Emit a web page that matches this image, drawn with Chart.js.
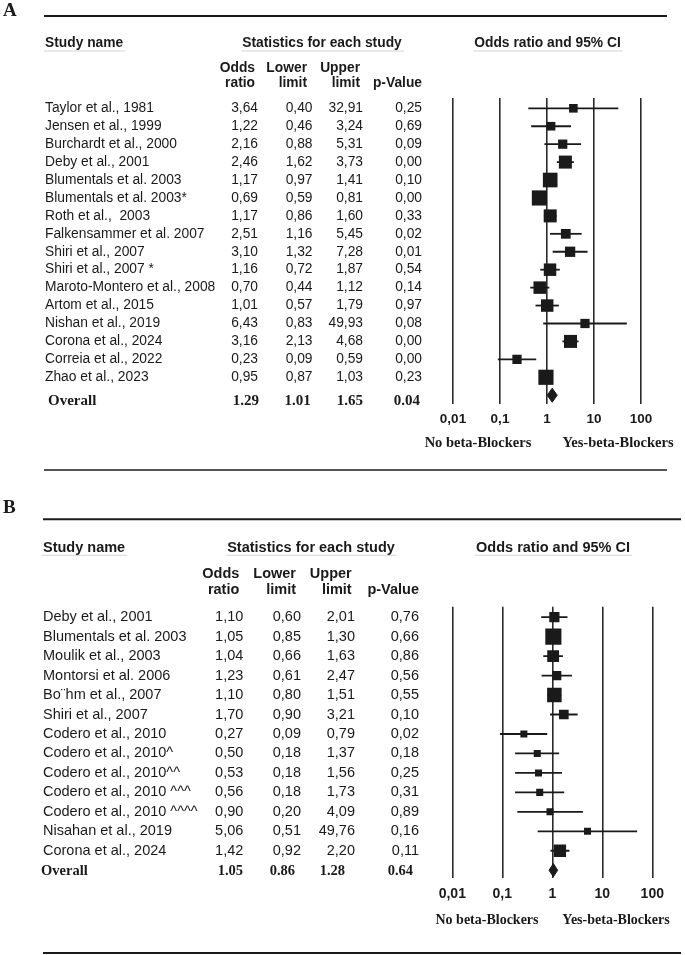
<!DOCTYPE html>
<html lang="en">
<head>
<meta charset="utf-8">
<script src="https://cdn.jsdelivr.net/npm/chart.js"></script>
<style>
  body { margin: 0; background: #fff; }
  canvas { display: block; }
</style>
</head>
<body>
<canvas id="panelA" width="685" height="477"></canvas>
<canvas id="panelB" width="685" height="478"></canvas>
<script>
// ---- panel A ----
const studiesA = ["Taylor et al., 1981", "Jensen et al., 1999", "Burchardt et al., 2000", "Deby et al., 2001",
  "Blumentals et al. 2003", "Blumentals et al. 2003*", "Roth et al.,  2003", "Falkensammer et al. 2007",
  "Shiri et al., 2007", "Shiri et al., 2007 *", "Maroto-Montero et al., 2008", "Artom et al., 2015",
  "Nishan et al., 2019", "Corona et al., 2024", "Correia et al., 2022", "Zhao et al., 2023"];
const oddsA  = [3.64, 1.22, 2.16, 2.46, 1.17, 0.69, 1.17, 2.51, 3.10, 1.16, 0.70, 1.01, 6.43, 3.16, 0.23, 0.95];
const lowerA = [0.40, 0.46, 0.88, 1.62, 0.97, 0.59, 0.86, 1.16, 1.32, 0.72, 0.44, 0.57, 0.83, 2.13, 0.09, 0.87];
const upperA = [32.91, 3.24, 5.31, 3.73, 1.41, 0.81, 1.60, 5.45, 7.28, 1.87, 1.12, 1.79, 49.93, 4.68, 0.59, 1.03];
const pValueA = [0.25, 0.69, 0.09, 0.00, 0.10, 0.00, 0.33, 0.02, 0.01, 0.54, 0.14, 0.97, 0.08, 0.00, 0.00, 0.23];
const weightA = [3.3, 3.3, 3.8, 7.5, 9.5, 10.2, 7.5, 4.2, 4.7, 6.9, 6.9, 6.9, 3.8, 7.5, 3.8, 10.2]; // relative weight (%)
const overallA = [1.29, 1.01, 1.65, 0.04]; // OR, lower, upper, p

// ---- panel B ----
const studiesB = ["Deby et al., 2001", "Blumentals et al. 2003", "Moulik et al., 2003", "Montorsi et al. 2006",
  "Bo\u00a8hm et al., 2007", "Shiri et al., 2007", "Codero et al., 2010", "Codero et al., 2010^",
  "Codero et al., 2010^^", "Codero et al., 2010 ^^^", "Codero et al., 2010 ^^^^", "Nisahan et al., 2019",
  "Corona et al., 2024"];
const oddsB  = [1.10, 1.05, 1.04, 1.23, 1.10, 1.70, 0.27, 0.50, 0.53, 0.56, 0.90, 5.06, 1.42];
const lowerB = [0.60, 0.85, 0.66, 0.61, 0.80, 0.90, 0.09, 0.18, 0.18, 0.18, 0.20, 0.51, 0.92];
const upperB = [2.01, 1.30, 1.63, 2.47, 1.51, 3.21, 0.79, 1.37, 1.56, 1.73, 4.09, 49.76, 2.20];
const pValueB = [0.76, 0.66, 0.86, 0.56, 0.55, 0.10, 0.02, 0.18, 0.25, 0.31, 0.89, 0.16, 0.11];
const weightB = [7.8, 19.5, 10.5, 6.2, 15.8, 7.0, 3.7, 3.7, 3.7, 3.7, 3.7, 3.7, 11.4];
const overallB = [1.05, 0.86, 1.28, 0.64];

const orTicks = [0.01, 0.1, 1, 10, 100];
const orTickLabels = ["0,01", "0,1", "1", "10", "100"];
const favourLabels = ["No beta-Blockers", "Yes-beta-Blockers"];
const colHeadTop = ["Odds", "Lower", "Upper", ""];
const colHeadBottom = ["ratio", "limit", "limit", "p-Value"];

const sans = "Arial, 'Liberation Sans', sans-serif";
const serif = "'Times New Roman', 'Liberation Serif', serif";
const ink = "#1a1a1a";

function comma(v) { return v.toFixed(2).replace(".", ","); }

function hline(ctx, x0, x1, y, w, color) {
  ctx.beginPath();
  ctx.strokeStyle = color;
  ctx.lineWidth = w;
  ctx.moveTo(x0, y);
  ctx.lineTo(x1, y);
  ctx.stroke();
}

function forestPanel(id, d, s) {
  const n = d.names.length;
  const datasets = [];

  // confidence intervals
  d.names.forEach((_, i) => {
    datasets.push({
      data: [{ x: d.lower[i], y: i }, { x: d.upper[i], y: i }],
      showLine: true, borderColor: ink, borderWidth: 1.8, pointRadius: 0
    });
  });
  // study boxes
  datasets.push({
    data: d.odds.map((v, i) => ({ x: v, y: i })),
    pointStyle: "rect",
    pointRadius: d.weight.map(w => Math.sqrt(w) * s.box / Math.SQRT2),
    pointBackgroundColor: ink, backgroundColor: ink, pointBorderWidth: 0
  });
  // overall diamond (two halves filled together)
  const [or, lo, hi] = d.overall;
  datasets.push({
    data: [{ x: lo, y: n }, { x: or, y: n - s.dia }, { x: hi, y: n }],
    showLine: true, borderColor: ink, borderWidth: 1, pointRadius: 0,
    fill: "+1", backgroundColor: ink
  });
  datasets.push({
    data: [{ x: lo, y: n }, { x: or, y: n + s.dia }, { x: hi, y: n }],
    showLine: true, borderColor: ink, borderWidth: 1, pointRadius: 0
  });

  const table = {
    id: "table",
    afterDraw(chart) {
      const ctx = chart.ctx;
      const yS = chart.scales.y;
      ctx.save();
      ctx.fillStyle = ink;
      ctx.textBaseline = "middle";

      ctx.font = `bold 19px ${serif}`;
      ctx.textAlign = "left";
      ctx.fillText(s.letter, 3, s.letterY);

      hline(ctx, s.ruleX[0], s.ruleX[1], s.topRule, 2, ink);
      hline(ctx, s.ruleX[0], s.ruleX[1], s.bottomRule, s.bottomW, ink);

      // section headers with light underline
      ctx.font = `bold ${s.fs}px ${sans}`;
      const heads = [["Study name", s.nameX, "left"], ["Statistics for each study", s.statsX, "center"],
                     ["Odds ratio and 95% CI", s.ciX, "center"]];
      heads.forEach(([t, x, a]) => {
        ctx.textAlign = a;
        ctx.fillText(t, x, s.headY);
        const w = ctx.measureText(t).width;
        const x0 = a === "left" ? x : x - w / 2;
        hline(ctx, x0 - 1, x0 + w + 2, s.ulY, 1, "#d4d4d4");
      });

      ctx.textAlign = "right";
      colHeadTop.forEach((t, k) => ctx.fillText(t, s.headRight[k], s.head1Y));
      colHeadBottom.forEach((t, k) => ctx.fillText(t, s.headRight[k], s.head2Y));

      // study rows
      ctx.font = `${s.fs}px ${sans}`;
      d.names.forEach((name, i) => {
        const y = yS.getPixelForValue(i);
        ctx.textAlign = "left";
        ctx.fillText(name, s.nameX, y);
        ctx.textAlign = "right";
        [d.odds[i], d.lower[i], d.upper[i], d.p[i]].forEach((v, k) => ctx.fillText(comma(v), s.valRight[k], y));
      });

      // overall row
      const yo = yS.getPixelForValue(n) + s.overallShift;
      ctx.font = `bold ${s.ofs}px ${serif}`;
      ctx.textAlign = "left";
      ctx.fillText("Overall", s.overallX, yo);
      ctx.textAlign = "right";
      d.overall.forEach((v, k) => ctx.fillText(v.toFixed(2), s.overallRight[k], yo));

      // favours labels
      ctx.font = `bold ${s.lfs}px ${serif}`;
      ctx.textAlign = "center";
      ctx.fillText(favourLabels[0], s.lblX[0], s.lblY);
      ctx.fillText(favourLabels[1], s.lblX[1], s.lblY);
      ctx.restore();
    }
  };

  return new Chart(document.getElementById(id), {
    type: "scatter",
    data: { datasets },
    options: {
      responsive: false,
      devicePixelRatio: 1,
      animation: false,
      events: [],
      layout: { padding: { left: s.area[0], right: 685 - s.area[1], top: s.area[2], bottom: 0 } },
      plugins: { legend: { display: false }, tooltip: { enabled: false } },
      scales: {
        x: {
          type: "logarithmic", min: 0.01, max: 100,
          afterBuildTicks: sc => { sc.ticks = orTicks.map(v => ({ value: v })); },
          afterFit: sc => { sc.height = s.axisH; },
          grid: { color: "#2a2a2a", lineWidth: 1.6, drawTicks: false },
          border: { display: false },
          ticks: {
            autoSkip: false, maxRotation: 0, padding: s.tickPad, color: ink,
            font: { family: sans, weight: "bold", size: s.tfs },
            callback: (v, i) => orTickLabels[i]
          }
        },
        y: { type: "linear", reverse: true, min: s.yRange[0], max: s.yRange[1], display: false }
      }
    },
    plugins: [table]
  });
}

forestPanel("panelA",
  { names: studiesA, odds: oddsA, lower: lowerA, upper: upperA, p: pValueA, weight: weightA, overall: overallA },
  {
    letter: "A", letterY: 11, ruleX: [44, 667], topRule: 16, bottomRule: 470, bottomW: 1.5,
    fs: 13.8, ofs: 15, lfs: 14.5, tfs: 13.5,
    headY: 43.5, ulY: 51, nameX: 45, statsX: 322, ciX: 547.5,
    head1Y: 68, head2Y: 83.5, headRight: [255, 307, 360, 422],
    valRight: [258, 312.5, 363, 422], overallX: 48, overallRight: [259, 310.7, 363, 420], overallShift: 5.5,
    lblY: 443, lblX: [478, 618],
    area: [453, 641, 98], axisH: 73, tickPad: 7, yRange: [-0.574, 16.49],
    box: 4.75, dia: 0.39
  });

forestPanel("panelB",
  { names: studiesB, odds: oddsB, lower: lowerB, upper: upperB, p: pValueB, weight: weightB, overall: overallB },
  {
    letter: "B", letterY: 31, ruleX: [43, 681], topRule: 42.3, bottomRule: 476, bottomW: 2,
    fs: 14.5, ofs: 14.5, lfs: 14, tfs: 14,
    headY: 70.7, ulY: 78.3, nameX: 43, statsX: 311, ciX: 553,
    head1Y: 97.3, head2Y: 113, headRight: [239.3, 296, 351.7, 419],
    valRight: [243.3, 301, 355, 419], overallX: 41, overallRight: [243, 295, 345, 413], overallShift: 1.5,
    lblY: 443, lblX: [487, 616],
    area: [452.3, 652.3, 129.7], axisH: 77, tickPad: 7.5, yRange: [-0.54, 13.40],
    box: 3.65, dia: 0.34
  });
</script>
</body>
</html>
